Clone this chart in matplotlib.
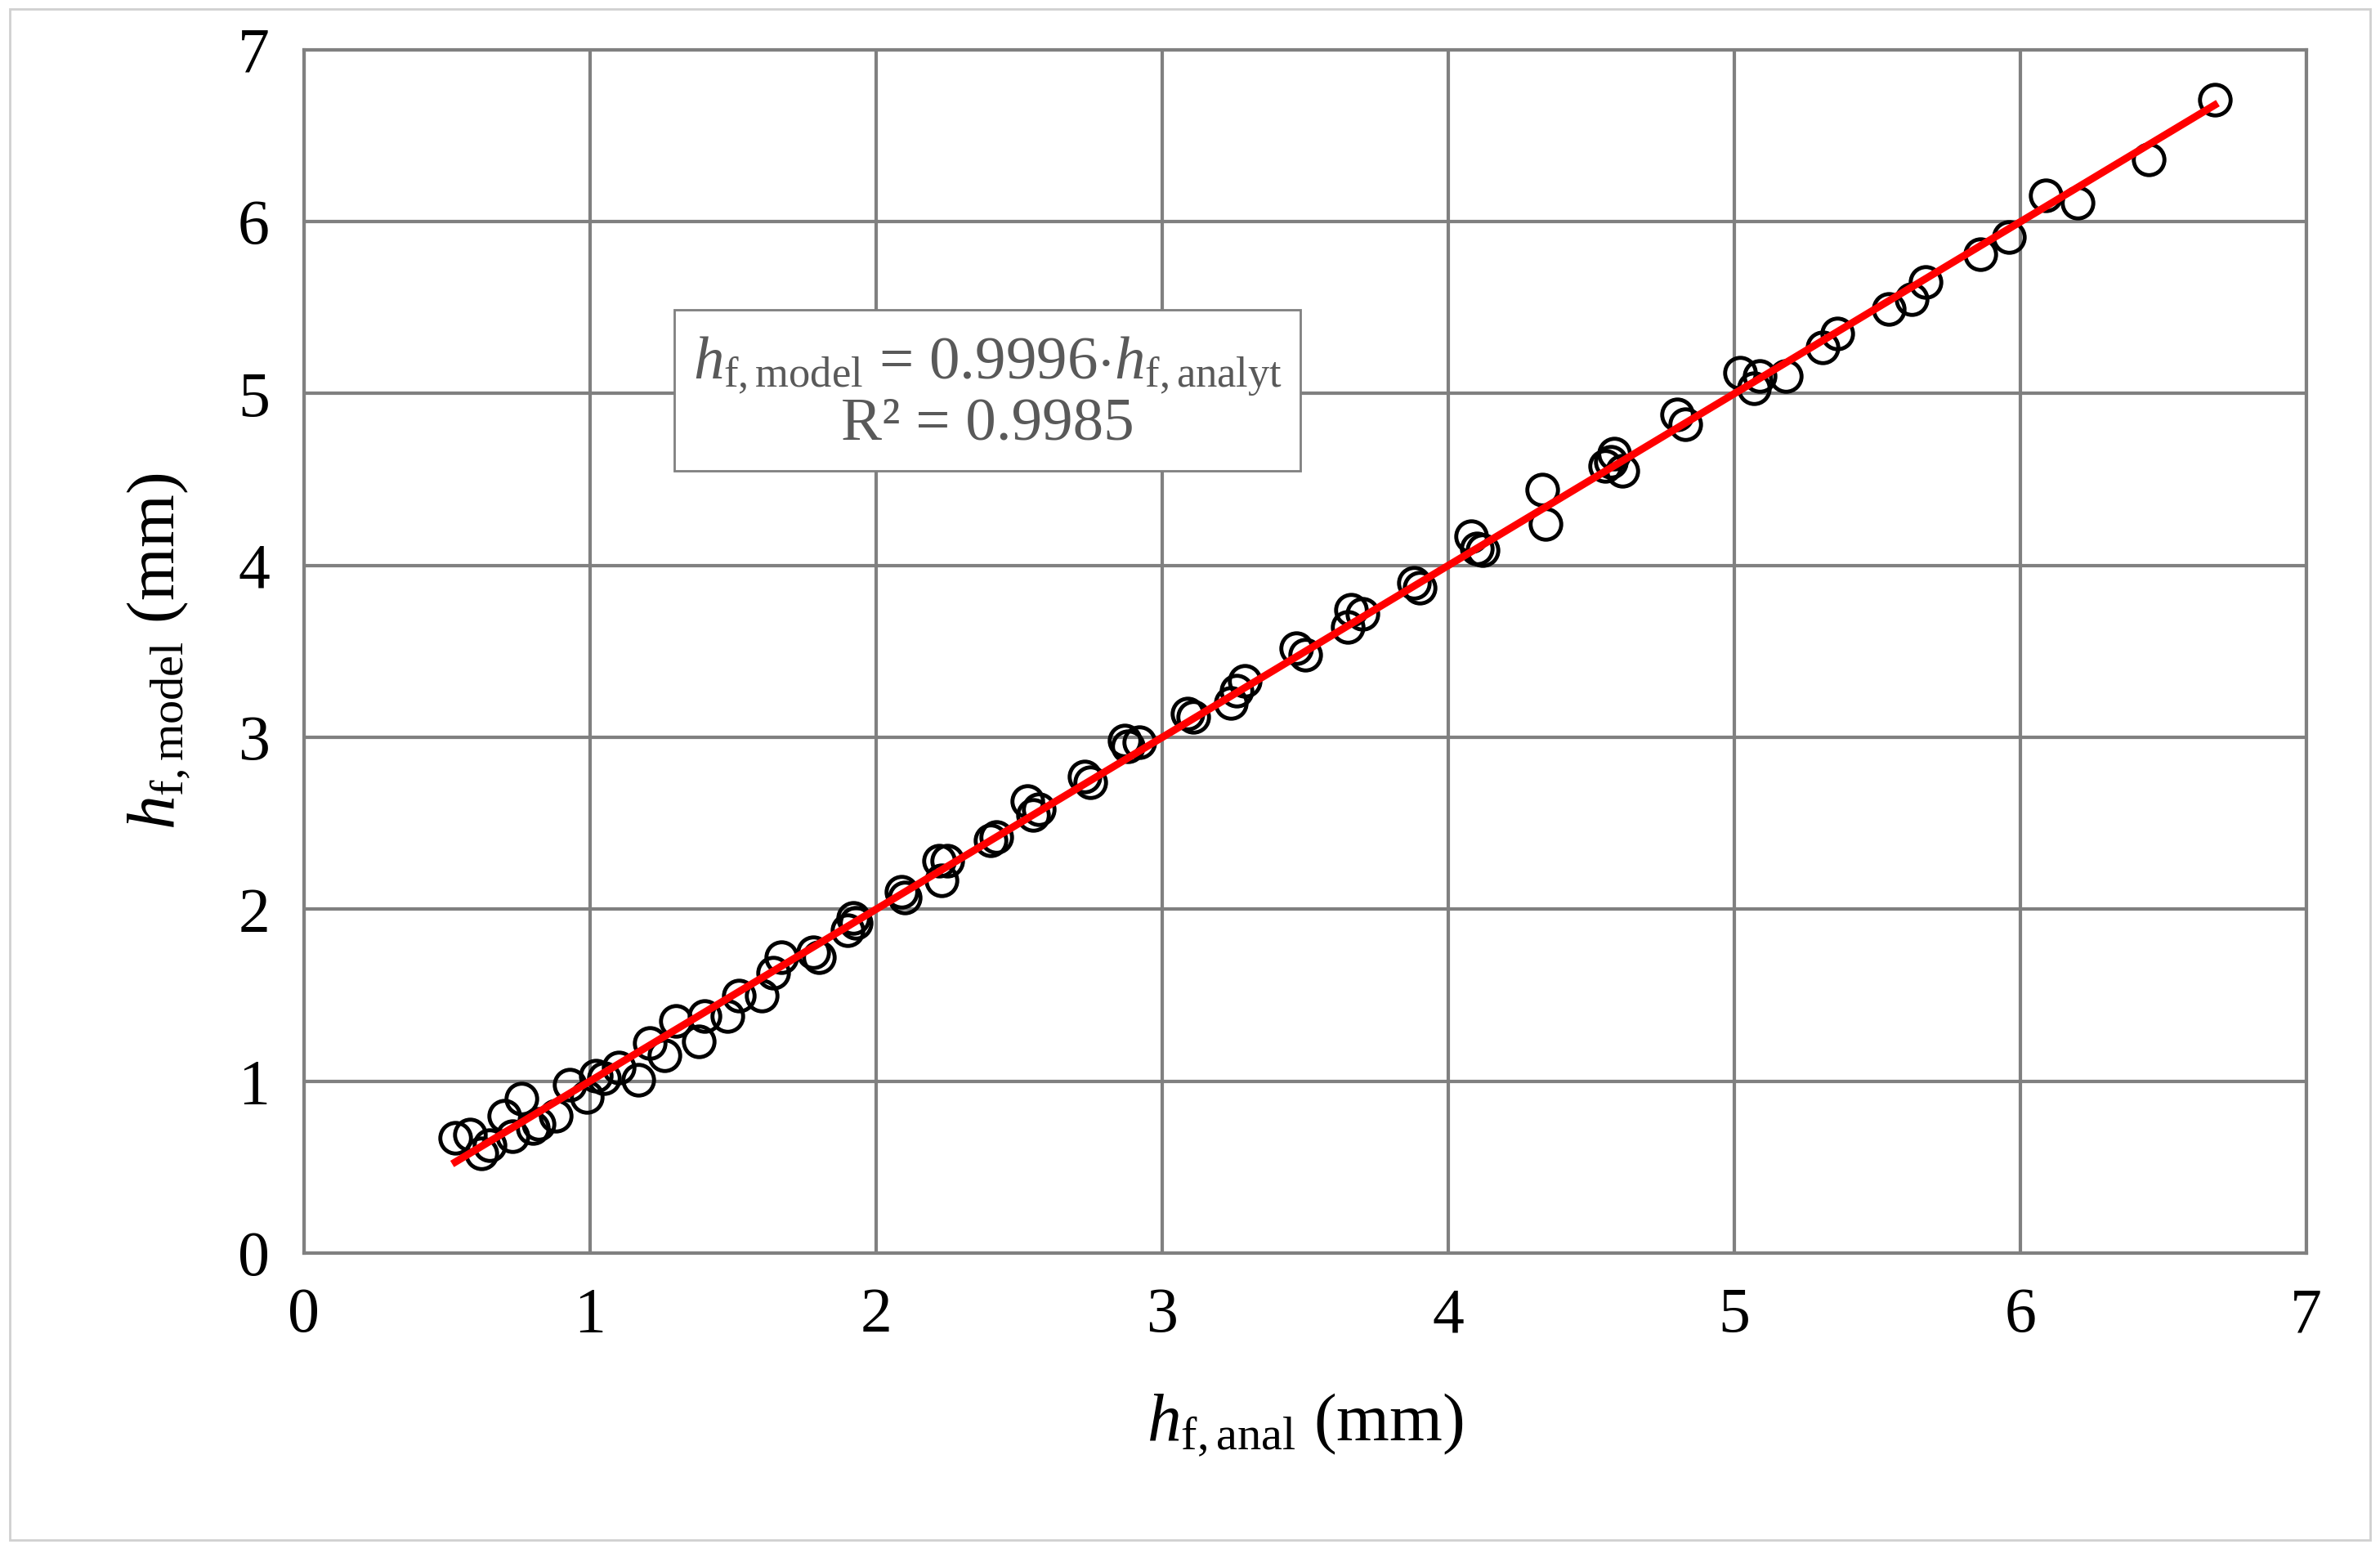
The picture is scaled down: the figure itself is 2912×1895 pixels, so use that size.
import matplotlib
matplotlib.use("Agg")
import matplotlib.pyplot as plt
import numpy as np
from matplotlib.patches import Rectangle

x_anal = [0.53,0.58,0.62,0.65,0.70,0.73,0.76,0.80,0.82,0.88,0.93,0.99,1.02,1.05,1.10,1.17,1.21,1.26,1.30,1.38,1.40,1.48,1.52,1.60,1.64,1.67,1.78,1.80,1.90,1.92,1.93,2.09,2.10,2.22,2.23,2.25,2.40,2.42,2.53,2.55,2.57,2.73,2.75,2.87,2.88,2.92,3.09,3.11,3.24,3.26,3.29,3.47,3.50,3.65,3.66,3.70,3.88,3.90,4.08,4.10,4.12,4.33,4.34,4.55,4.57,4.58,4.61,4.80,4.83,5.02,5.07,5.09,5.18,5.31,5.36,5.54,5.62,5.67,5.86,5.96,6.09,6.20,6.45,6.68]
y_model = [0.67,0.69,0.58,0.63,0.80,0.68,0.90,0.73,0.75,0.80,0.98,0.91,1.03,1.02,1.08,1.01,1.22,1.15,1.35,1.23,1.38,1.38,1.50,1.50,1.63,1.72,1.75,1.72,1.88,1.95,1.92,2.10,2.07,2.28,2.17,2.28,2.40,2.42,2.63,2.55,2.58,2.77,2.74,2.98,2.95,2.97,3.14,3.12,3.20,3.27,3.33,3.52,3.48,3.64,3.74,3.72,3.90,3.87,4.17,4.10,4.09,4.44,4.24,4.58,4.60,4.65,4.55,4.88,4.82,5.12,5.03,5.10,5.10,5.27,5.35,5.49,5.55,5.65,5.81,5.91,6.15,6.11,6.36,6.71]
slope = 0.9996
ticks = [0, 1, 2, 3, 4, 5, 6, 7]

plt.rcParams['font.family'] = ['Liberation Serif', 'DejaVu Serif']
plt.rcParams['mathtext.fontset'] = 'custom'
plt.rcParams['mathtext.rm'] = 'Liberation Serif'
plt.rcParams['mathtext.it'] = 'Liberation Serif:italic'

fig = plt.figure(figsize=(29.12, 18.95), dpi=100)
fig.patches.append(Rectangle((0.004, 0.006), 0.992, 0.988, transform=fig.transFigure,
                             fill=False, edgecolor='#d0d0d0', linewidth=2))
ax = fig.add_axes([0.1276, 0.191, 0.8414, 0.777])
ax.set_xlim(0, 7); ax.set_ylim(0, 7)
ax.set_xticks(ticks); ax.set_yticks(ticks)
ax.grid(True, color='#808080', linewidth=3)
ax.set_axisbelow(True)
for s in ax.spines.values():
    s.set_color('#808080'); s.set_linewidth(3)
ax.tick_params(length=0, labelsize=56, pad=30)

ax.plot(x_anal, y_model, 'o', mfc='none', mec='black', ms=27, mew=3.5, zorder=3)
xl = np.array([min(x_anal), max(x_anal)])
ax.plot(xl, slope * xl, color='red', linewidth=6.5, zorder=4)

ax.text(2.39, 5.0, r"$h_{\mathrm{f,model}}$ = 0.9996$\cdot h_{\mathrm{f,analyt}}$" + "\nR² = 0.9985",
        ha='center', va='center', fontsize=54, color='#595959', linespacing=1.0,
        bbox=dict(boxstyle='square,pad=0.3', facecolor='white', edgecolor='#808080', linewidth=2), zorder=5)

ax.set_xlabel(r"$h_{\mathrm{f,anal}}$ (mm)", fontsize=60, labelpad=40)
ax.set_ylabel(r"$h_{\mathrm{f,model}}$ $\mathrm{(mm)}$", fontsize=60, labelpad=40)
fig.savefig("out.png", dpi=100)
